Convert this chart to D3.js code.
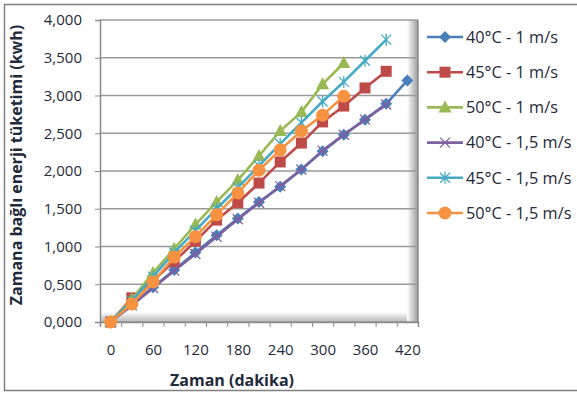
<!DOCTYPE html>
<html>
<head>
<meta charset="utf-8">
<script src="https://cdn.jsdelivr.net/npm/d3@7"></script>
<style>
  body { margin: 0; background: #fff; }
  text { font-family: "Open Sans", "DejaVu Sans", sans-serif; fill: #1f2a3a; }
</style>
</head>
<body>
<svg id="chart" width="577" height="394"></svg>
<script>
// time in minutes (category axis, one per 30 min)
var minutes = [0, 30, 60, 90, 120, 150, 180, 210, 240, 270, 300, 330, 360, 390, 420];
var xLabels = [0, 60, 120, 180, 240, 300, 360, 420];
var yTicks = [0, 0.5, 1, 1.5, 2, 2.5, 3, 3.5, 4];

var names = ["40°C - 1 m/s", "45°C - 1 m/s", "50°C - 1 m/s", "40°C - 1,5 m/s", "45°C - 1,5 m/s", "50°C - 1,5 m/s"];
var colors = ["#4a7ebb", "#be4b48", "#98b954", "#7d60a0", "#46aac5", "#f69240"];
var shapes = ["diamond", "square", "triangle", "cross", "star", "circle"];

var s40_1  = [0, 0.23, 0.46, 0.69, 0.92, 1.15, 1.37, 1.59, 1.79, 2.02, 2.26, 2.48, 2.68, 2.89, 3.20];
var s45_1  = [0, 0.32, 0.55, 0.80, 1.07, 1.35, 1.58, 1.84, 2.12, 2.37, 2.65, 2.86, 3.10, 3.32];
var s50_1  = [0, 0.30, 0.65, 0.97, 1.29, 1.59, 1.88, 2.20, 2.53, 2.78, 3.15, 3.43];
var s40_15 = [0, 0.22, 0.45, 0.68, 0.90, 1.13, 1.36, 1.58, 1.80, 2.02, 2.27, 2.48, 2.68, 2.88];
var s45_15 = [0, 0.28, 0.60, 0.92, 1.21, 1.50, 1.78, 2.07, 2.36, 2.64, 2.92, 3.18, 3.46, 3.74];
var s50_15 = [0, 0.24, 0.53, 0.86, 1.13, 1.42, 1.71, 2.01, 2.28, 2.53, 2.74, 2.99];

var series = [s40_1, s45_1, s50_1, s40_15, s45_15, s50_15];

var svg = d3.select("#chart");
var pLeft = 100, pRight = 418, pTop = 20, pBottom = 322;

// chart border (right edge falls outside the picture)
svg.append("rect").attr("x", 4.5).attr("y", 4.5).attr("width", 600).attr("height", 386)
   .attr("fill", "#fff").attr("stroke", "#7f7f7f").attr("stroke-width", 1.5);

var x = d3.scaleLinear().domain([-15, 435]).range([pLeft, pRight]);
var y = d3.scaleLinear().domain([0, 4]).range([pBottom, pTop]);

// plot area inner shadow
var defs = svg.append("defs");
var gr = defs.append("linearGradient").attr("id", "shR").attr("x1", 0).attr("x2", 1).attr("y1", 0).attr("y2", 0);
gr.append("stop").attr("offset", 0).attr("stop-color", "#888").attr("stop-opacity", 0);
gr.append("stop").attr("offset", 1).attr("stop-color", "#888").attr("stop-opacity", 0.85);
var gb = defs.append("linearGradient").attr("id", "shB").attr("x1", 0).attr("x2", 0).attr("y1", 0).attr("y2", 1);
gb.append("stop").attr("offset", 0).attr("stop-color", "#888").attr("stop-opacity", 0);
gb.append("stop").attr("offset", 1).attr("stop-color", "#888").attr("stop-opacity", 0.6);
svg.append("rect").attr("x", pRight - 11).attr("y", pTop).attr("width", 11).attr("height", pBottom - pTop).attr("fill", "url(#shR)");
svg.append("rect").attr("x", pLeft).attr("y", pBottom - 10).attr("width", pRight - pLeft - 11).attr("height", 10).attr("fill", "url(#shB)");

// grid lines
svg.append("g").selectAll("line").data(yTicks).join("line")
   .attr("x1", pLeft).attr("x2", pRight).attr("y1", d => y(d)).attr("y2", d => y(d))
   .attr("stroke", "#9a9a9a").attr("stroke-width", 1.3);
svg.append("line").attr("x1", pRight).attr("x2", pRight).attr("y1", pTop).attr("y2", pBottom)
   .attr("stroke", "#8a8a8a").attr("stroke-width", 1.5);

// y axis
var fmt = d3.format(".3f");
var yAxis = svg.append("g").attr("transform", "translate(" + pLeft + ",0)")
   .call(d3.axisLeft(y).tickValues(yTicks).tickSize(5).tickPadding(13).tickFormat(d => fmt(d).replace(".", ",")));
yAxis.select(".domain").attr("stroke", "#8a8a8a").attr("stroke-width", 1.5);
yAxis.selectAll(".tick line").attr("stroke", "#8a8a8a");
yAxis.selectAll("text").style("font-size", "15px");

// x axis: tick marks between categories, labels every 60 min
var xTickAx = svg.append("g").attr("transform", "translate(0," + pBottom + ")")
   .call(d3.axisBottom(x).tickValues(d3.range(-15, 436, 30)).tickSize(5).tickFormat(""));
xTickAx.select(".domain").attr("stroke", "#8a8a8a").attr("stroke-width", 1.5);
xTickAx.selectAll(".tick line").attr("stroke", "#8a8a8a");
var xLab = svg.append("g").attr("transform", "translate(0," + pBottom + ")")
   .call(d3.axisBottom(x).tickValues(xLabels).tickSize(0).tickPadding(22));
xLab.select(".domain").remove();
xLab.selectAll("text").style("font-size", "15px");

// symbols
function drawMarker(g, shape, color) {
  if (shape === "diamond") {
    g.append("path").attr("d", "M0,-6L6,0L0,6L-6,0Z").attr("fill", color);
  } else if (shape === "square") {
    g.append("rect").attr("x", -5.5).attr("y", -5.5).attr("width", 11).attr("height", 11).attr("fill", color);
  } else if (shape === "triangle") {
    g.append("path").attr("d", "M0,-7L6.5,5L-6.5,5Z").attr("fill", color);
  } else if (shape === "cross") {
    g.append("path").attr("d", "M-5,-5L5,5M-5,5L5,-5").attr("stroke", color).attr("stroke-width", 1.3);
  } else if (shape === "star") {
    g.append("path").attr("d", "M-5,-5L5,5M-5,5L5,-5M0,-6L0,6").attr("stroke", color).attr("stroke-width", 1.3);
  } else {
    g.append("circle").attr("r", 6.5).attr("fill", color);
  }
}

var line = d3.line().x((d, i) => x(minutes[i])).y(d => y(d));
series.forEach(function (vals, k) {
  var g = svg.append("g");
  g.append("path").datum(vals).attr("d", line).attr("fill", "none")
   .attr("stroke", colors[k]).attr("stroke-width", 2.6).attr("stroke-linejoin", "round");
  g.selectAll("g").data(vals).join("g")
   .attr("transform", (d, i) => "translate(" + x(minutes[i]) + "," + y(d) + ")")
   .each(function () { drawMarker(d3.select(this), shapes[k], colors[k]); });
});

// legend
var lg = svg.append("g");
names.forEach(function (n, k) {
  var yy = 37 + k * 35.2;
  lg.append("line").attr("x1", 427).attr("x2", 463).attr("y1", yy).attr("y2", yy)
    .attr("stroke", colors[k]).attr("stroke-width", 2.6);
  drawMarker(lg.append("g").attr("transform", "translate(445," + yy + ")"), shapes[k], colors[k]);
  lg.append("text").attr("x", 466).attr("y", yy).attr("dy", "0.35em").style("font-size", "16.3px").text(n);
});

// axis titles
svg.append("text").attr("x", 232).attr("y", 386).attr("text-anchor", "middle")
   .style("font-size", "16px").style("font-weight", "bold").text("Zaman (dakika)");
svg.append("text").attr("transform", "translate(16,165) rotate(-90)").attr("text-anchor", "middle")
   .attr("dy", "0.35em").style("font-size", "16px").style("font-weight", "bold").text("Zamana bağlı enerji tüketimi (kwh)");
</script>
</body>
</html>
